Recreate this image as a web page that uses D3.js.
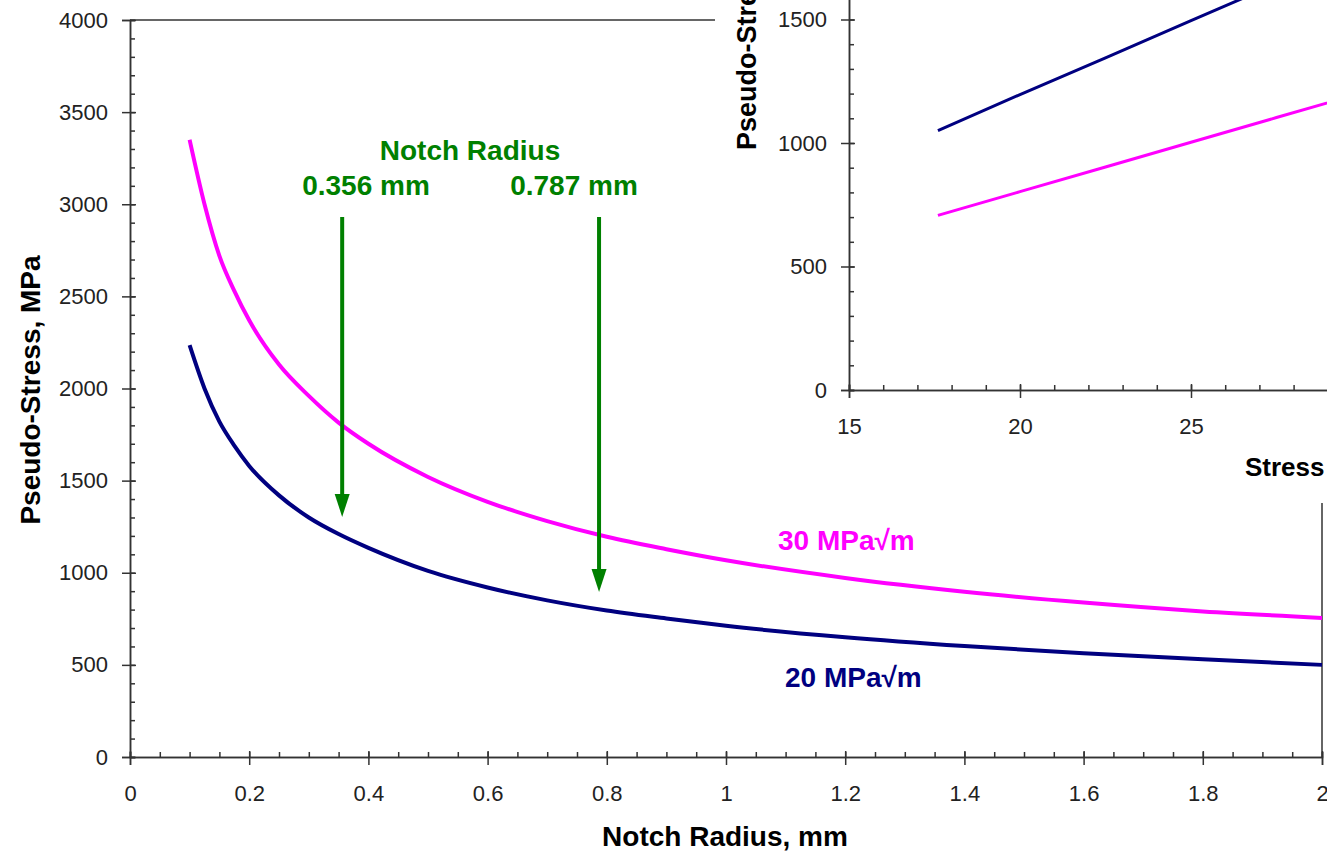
<!DOCTYPE html>
<html>
<head>
<meta charset="utf-8">
<script src="https://cdn.jsdelivr.net/npm/d3@7"></script>
<style>
  body { margin: 0; background: #fff; }
  svg { display: block; }
  text { font-family: Arial, "Liberation Sans", sans-serif; }
</style>
</head>
<body>
<svg id="chart" width="1327" height="851"></svg>
<script>
// Pseudo-stress vs notch radius for two stress intensities
const radius   = [0.1, 0.125, 0.15, 0.175, 0.2, 0.25, 0.3, 0.35, 0.4, 0.5, 0.6, 0.7, 0.8, 0.9, 1.0, 1.2, 1.4, 1.6, 1.8, 2.0];
const stressK20 = [2235, 2000, 1820, 1690, 1580, 1420, 1300, 1210, 1135, 1010, 920, 850, 795, 752, 712, 650, 602, 563, 530, 500];
const stressK30 = [3350, 3000, 2720, 2530, 2370, 2130, 1960, 1815, 1700, 1520, 1385, 1280, 1195, 1128, 1068, 972, 897, 838, 790, 755];
const seriesNames = ["20 MPa\u221Am", "30 MPa\u221Am"];

const xTicks = [0, 0.2, 0.4, 0.6, 0.8, 1, 1.2, 1.4, 1.6, 1.8, 2];
const xMinorTicks = d3.range(0, 2.0001, 0.05);
const yTicks = [0, 500, 1000, 1500, 2000, 2500, 3000, 3500, 4000];
const yMinorTicks = d3.range(0, 4001, 100);

const notchRadii = [0.356, 0.787];
const notchLabels = ["0.356 mm", "0.787 mm"];

// Inset: pseudo-stress vs stress intensity for the two notch radii
const insetK      = [17.6, 20, 22.5, 25, 27.5, 30];
const insetR0356  = [1050, 1196, 1345, 1495, 1645, 1794];
const insetR0787  = [707, 803, 903, 1003, 1103, 1203];
const insetXTicks = [15, 20, 25, 30];
const insetXMinor = d3.range(15, 31, 1);
const insetYTicks = [0, 500, 1000, 1500, 2000];
const insetYMinor = d3.range(0, 2001, 100);

const navy = "#000080", pink = "#FF00FF", green = "#008000", axisCol = "#333";
const titleSize = "28px", tickSize = "22px";

const svg = d3.select("#chart");

// ---- main chart ----
const x = d3.scaleLinear().domain([0, 2]).range([130, 1322]);
const y = d3.scaleLinear().domain([0, 4000]).range([757, 20]);

function styleAxis(g) {
  g.select(".domain").attr("stroke", axisCol).attr("stroke-width", 1.5);
  g.selectAll(".tick line").attr("stroke", axisCol).attr("stroke-width", 1.5);
  g.selectAll(".tick text").attr("fill", "#222").style("font-size", tickSize)
    .style("font-family", "Arial, 'Liberation Sans', sans-serif");
}

// minor ticks (inside only)
svg.append("g").attr("transform", "translate(130,0)")
  .call(d3.axisLeft(y).tickValues(yMinorTicks).tickSize(-5).tickFormat(""))
  .call(styleAxis);
svg.append("g").attr("transform", "translate(0,757)")
  .call(d3.axisBottom(x).tickValues(xMinorTicks).tickSize(-5).tickFormat(""))
  .call(styleAxis);

// major ticks crossing the axis
const yAxisG = svg.append("g").attr("transform", "translate(130,0)")
  .call(d3.axisLeft(y).tickValues(yTicks).tickSize(8).tickPadding(14).tickFormat(d3.format("d")))
  .call(styleAxis);
yAxisG.selectAll(".tick line").attr("x1", 6);
const xAxisG = svg.append("g").attr("transform", "translate(0,757)")
  .call(d3.axisBottom(x).tickValues(xTicks).tickSize(8).tickPadding(20).tickFormat(d3.format("~g")))
  .call(styleAxis);
xAxisG.selectAll(".tick line").attr("y1", -6);

// plot frame: top and right edges
svg.append("line").attr("x1", x(0)).attr("x2", x(2)).attr("y1", y(4000)).attr("y2", y(4000))
  .attr("stroke", axisCol).attr("stroke-width", 1.5);
svg.append("line").attr("x1", x(2)).attr("x2", x(2)).attr("y1", y(4000)).attr("y2", y(0))
  .attr("stroke", axisCol).attr("stroke-width", 1.5);

const line = d3.line().x(d => x(d[0])).y(d => y(d[1])).curve(d3.curveMonotoneX);
svg.append("path").datum(d3.zip(radius, stressK30)).attr("d", line)
  .attr("fill", "none").attr("stroke", pink).attr("stroke-width", 4);
svg.append("path").datum(d3.zip(radius, stressK20)).attr("d", line)
  .attr("fill", "none").attr("stroke", navy).attr("stroke-width", 4);

// axis titles
svg.append("text").attr("x", 725).attr("y", 846).attr("text-anchor", "middle")
  .style("font-size", titleSize).style("font-weight", "bold").text("Notch Radius, mm");
svg.append("text").attr("transform", "translate(40,390) rotate(-90)").attr("text-anchor", "middle")
  .style("font-size", titleSize).style("font-weight", "bold").text("Pseudo-Stress, MPa");

// series labels
svg.append("text").attr("x", 778).attr("y", 550).attr("fill", pink)
  .style("font-size", titleSize).style("font-weight", "bold").text(seriesNames[1]);
svg.append("text").attr("x", 785).attr("y", 687).attr("fill", navy)
  .style("font-size", titleSize).style("font-weight", "bold").text(seriesNames[0]);

// notch radius annotation with arrows
svg.append("text").attr("x", 470).attr("y", 160).attr("text-anchor", "middle").attr("fill", green)
  .style("font-size", titleSize).style("font-weight", "bold").text("Notch Radius");
const arrowTips = [1303, 896];
notchRadii.forEach((r, i) => {
  const ax = x(r), top = 217, tip = y(arrowTips[i]);
  svg.append("line").attr("x1", ax).attr("x2", ax).attr("y1", top).attr("y2", tip - 18)
    .attr("stroke", green).attr("stroke-width", 4);
  svg.append("path")
    .attr("d", `M${ax - 7.5},${tip - 23} L${ax + 7.5},${tip - 23} L${ax},${tip} Z`)
    .attr("fill", green);
});
svg.append("text").attr("x", 366).attr("y", 195).attr("text-anchor", "middle").attr("fill", green)
  .style("font-size", titleSize).style("font-weight", "bold").text(notchLabels[0]);
svg.append("text").attr("x", 574).attr("y", 195).attr("text-anchor", "middle").attr("fill", green)
  .style("font-size", titleSize).style("font-weight", "bold").text(notchLabels[1]);

// ---- inset chart ----
const inset = svg.append("g");
inset.append("rect").attr("x", 715).attr("y", 0).attr("width", 612).attr("height", 503).attr("fill", "#fff");

const ix = d3.scaleLinear().domain([15, 30]).range([849, 1362]);
const iy = d3.scaleLinear().domain([0, 2000]).range([390, -104]);

inset.append("g").attr("transform", "translate(849,0)")
  .call(d3.axisLeft(iy).tickValues(insetYMinor).tickSize(-5).tickFormat(""))
  .call(styleAxis);
inset.append("g").attr("transform", "translate(0,390)")
  .call(d3.axisBottom(ix).tickValues(insetXMinor).tickSize(-5).tickFormat(""))
  .call(styleAxis);
const iyAxis = inset.append("g").attr("transform", "translate(849,0)")
  .call(d3.axisLeft(iy).tickValues(insetYTicks).tickSize(8).tickPadding(14).tickFormat(d3.format("d")))
  .call(styleAxis);
iyAxis.selectAll(".tick line").attr("x1", 6);
const ixAxis = inset.append("g").attr("transform", "translate(0,390)")
  .call(d3.axisBottom(ix).tickValues(insetXTicks).tickSize(8).tickPadding(20).tickFormat(d3.format("d")))
  .call(styleAxis);
ixAxis.selectAll(".tick line").attr("y1", -6);

const iline = d3.line().x(d => ix(d[0])).y(d => iy(d[1]));
inset.append("path").datum(d3.zip(insetK, insetR0356)).attr("d", iline)
  .attr("fill", "none").attr("stroke", navy).attr("stroke-width", 3);
inset.append("path").datum(d3.zip(insetK, insetR0787)).attr("d", iline)
  .attr("fill", "none").attr("stroke", pink).attr("stroke-width", 3);

inset.append("text").attr("transform", "translate(756,150) rotate(-90)").attr("text-anchor", "start")
  .style("font-size", "27px").style("font-weight", "bold").text("Pseudo-Stress, MPa");
inset.append("text").attr("x", 1245).attr("y", 476)
  .style("font-size", "26px").style("font-weight", "bold").text("Stress Intensity, MPa\u221Am");
</script>
</body>
</html>
